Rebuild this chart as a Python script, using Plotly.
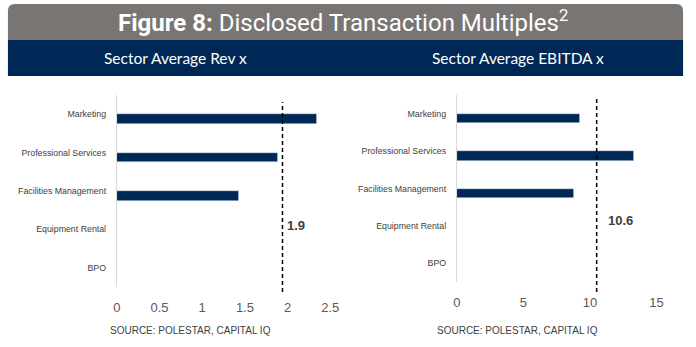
import plotly.graph_objects as go

W, H = 696, 347

categories = ["Marketing", "Professional Services", "Facilities Management", "Equipment Rental", "BPO"]
rev_values = [2.34, 1.89, 1.43, None, None]
ebitda_values = [9.26, 13.29, 8.77, None, None]
rev_avg_line = 1.94
rev_avg_label = "1.9"
ebitda_avg_line = 10.5
ebitda_avg_label = "10.6"
rev_ticks = [0, 0.5, 1, 1.5, 2, 2.5]
rev_tick_text = ["0", "0.5", "1", "1.5", "2", "2.5"]
ebitda_ticks = [0, 5, 10, 15]
ebitda_tick_text = ["0", "5", "10", "15"]
title_bold = "Figure 8:"
title_rest = " Disclosed Transaction Multiples<sup>2</sup>"
sub_left = "Sector Average Rev x"
sub_right = "Sector Average EBITDA x"
source_text = "SOURCE: POLESTAR, CAPITAL IQ"

NAVY = "#002856"
GRAY = "#797572"
TXT = "#404040"

def px(x):
    return x / W

def py(y):
    return 1 - y / H

order = categories[::-1]

fig = go.Figure()
fig.add_trace(go.Bar(y=categories, x=rev_values, orientation="h", marker_color=NAVY,
                     width=0.255, offset=-0.255, xaxis="x", yaxis="y", showlegend=False,
                     hoverinfo="x+y"))
fig.add_trace(go.Bar(y=categories, x=ebitda_values, orientation="h", marker_color=NAVY,
                     width=0.26, offset=-0.26, xaxis="x2", yaxis="y2", showlegend=False,
                     hoverinfo="x+y"))

tickfont = dict(family="Liberation Sans, Arial, sans-serif", size=13, color="#595959")
catfont = dict(family="Liberation Sans, Arial, sans-serif", size=8.8, color=TXT)

fig.update_layout(
    width=W, height=H, margin=dict(l=0, r=0, t=0, b=0),
    paper_bgcolor="white", plot_bgcolor="white",
    xaxis=dict(domain=[px(115), px(332.5)], range=[0, 2.5], tickvals=rev_ticks,
               ticktext=rev_tick_text, showgrid=False, zeroline=False, showline=False,
               ticks="", tickfont=tickfont, anchor="y", ticklabelstandoff=11),
    yaxis=dict(domain=[py(287), py(95)], categoryorder="array", categoryarray=order,
               range=[-0.5, 4.5], showgrid=False, zeroline=False, showline=True,
               linecolor="#d9d9d9", linewidth=1, ticks="", tickfont=catfont,
               anchor="x", ticklabelstandoff=8),
    xaxis2=dict(domain=[px(461.5), px(665)], range=[0, 15], tickvals=ebitda_ticks,
                ticktext=ebitda_tick_text, showgrid=False, zeroline=False, showline=False,
                ticks="", tickfont=tickfont, anchor="y2", ticklabelstandoff=11),
    yaxis2=dict(domain=[py(282), py(95)], categoryorder="array", categoryarray=order,
                range=[-0.5, 4.5], showgrid=False, zeroline=False, showline=True,
                linecolor="#d9d9d9", linewidth=1, ticks="", tickfont=catfont,
                anchor="x2", ticklabelstandoff=8),
    bargap=0,
)

r = 7

def P(xp, yp):
    return f"{xp / W},{1 - yp / H}"

path = (f"M {P(4,40)} L {P(4,4+r)} Q {P(4,4)} {P(4+r,4)} L {P(692-r,4)} "
        f"Q {P(692,4)} {P(692,4+r)} L {P(692,40)} Z")
shapes = [
    dict(type="path", xref="paper", yref="paper", path=path, fillcolor=GRAY, line=dict(width=0), layer="below"),
    dict(type="rect", xref="paper", yref="paper", x0=px(4), x1=px(692), y0=py(76), y1=py(40),
         fillcolor=NAVY, line=dict(width=0), layer="below"),
    dict(type="line", xref="x", yref="paper", x0=rev_avg_line, x1=rev_avg_line,
         y0=py(292), y1=py(102), line=dict(color="black", width=1.5, dash="4px,3px")),
    dict(type="line", xref="x2", yref="paper", x0=ebitda_avg_line, x1=ebitda_avg_line,
         y0=py(292), y1=py(97), line=dict(color="black", width=1.5, dash="4px,3px")),
]
fig.update_layout(shapes=shapes)

ann = [
    dict(text=f"<b>{title_bold}</b>{title_rest}", x=px(345), y=py(21), xref="paper", yref="paper",
         showarrow=False, xanchor="center", yanchor="middle",
         font=dict(family="Roboto, sans-serif", size=24, color="white")),
    dict(text=sub_left, x=px(175), y=py(58), xref="paper", yref="paper", showarrow=False,
         xanchor="center", yanchor="middle", font=dict(family="Lato, sans-serif", size=15.5, color="white")),
    dict(text=sub_right, x=px(524), y=py(58), xref="paper", yref="paper", showarrow=False,
         xanchor="center", yanchor="middle", font=dict(family="Lato, sans-serif", size=15.5, color="white")),
    dict(text=f"<b>{rev_avg_label}</b>", x=rev_avg_line, y=py(225), xref="x", yref="paper",
         showarrow=False, xanchor="left", yanchor="middle", xshift=3,
         font=dict(family="Liberation Sans, Arial, sans-serif", size=13, color=TXT)),
    dict(text=f"<b>{ebitda_avg_label}</b>", x=ebitda_avg_line, y=py(221), xref="x2", yref="paper",
         showarrow=False, xanchor="left", yanchor="middle", xshift=9,
         font=dict(family="Liberation Sans, Arial, sans-serif", size=13, color=TXT)),
    dict(text=source_text, x=px(189.7), y=py(330.5), xref="paper", yref="paper", showarrow=False,
         xanchor="center", yanchor="middle",
         font=dict(family="Liberation Sans, Arial, sans-serif", size=10, color=TXT)),
    dict(text=source_text, x=px(523.7), y=py(330.5), xref="paper", yref="paper", showarrow=False,
         xanchor="center", yanchor="middle",
         font=dict(family="Liberation Sans, Arial, sans-serif", size=10, color=TXT)),
]
fig.update_layout(annotations=ann)

fig.write_html("out.html")
